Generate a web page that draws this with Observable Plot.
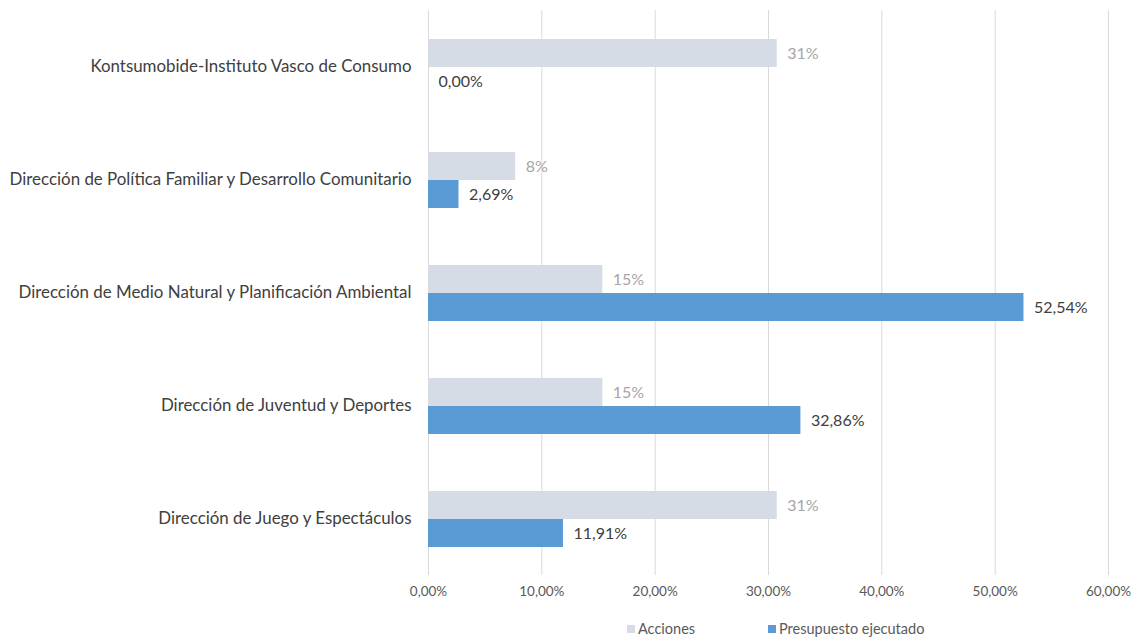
<!DOCTYPE html>
<html>
<head>
<meta charset="utf-8">
<script src="https://cdn.jsdelivr.net/npm/d3@7"></script>
<script src="https://cdn.jsdelivr.net/npm/@observablehq/plot@0.6"></script>
<style>
  html, body { margin: 0; padding: 0; background: #fff; }
  #chart { width: 1137px; }
  .legend { position: relative; width: 1137px; height: 28px; font-family: Lato, "Open Sans", sans-serif; font-size: 14.5px; color: #595959; }
  .legend .item { position: absolute; top: 8px; display: flex; align-items: center; white-space: nowrap; }
  .legend .sw { width: 8px; height: 8px; margin-right: 3px; }
</style>
</head>
<body>
<div id="chart"></div>
<script>
const categories = [
  "Kontsumobide-Instituto Vasco de Consumo",
  "Dirección de Política Familiar y Desarrollo Comunitario",
  "Dirección de Medio Natural y Planificación Ambiental",
  "Dirección de Juventud y Deportes",
  "Dirección de Juego y Espectáculos"
];
const acciones = [0.3077, 0.0769, 0.1538, 0.1538, 0.3077];
const presupuesto = [0.0000, 0.0269, 0.5254, 0.3286, 0.1191];
const series = ["Acciones", "Presupuesto ejecutado"];
const seriesColors = ["#D6DCE5", "#5B9BD5"];
const labelColors = ["#A6A6A6", "#404040"];
const xTicks = [0, 0.1, 0.2, 0.3, 0.4, 0.5, 0.6];

const locale = d3.formatLocale({decimal: ",", thousands: ".", grouping: [3], currency: ["", "€"]});
const fmt2 = locale.format(".2%");
const fmt0 = locale.format(".0%");

const data = [];
categories.forEach((c, i) => {
  data.push({category: c, series: series[0], value: acciones[i], label: fmt0(acciones[i]), lc: labelColors[0]});
  data.push({category: c, series: series[1], value: presupuesto[i], label: fmt2(presupuesto[i]), lc: labelColors[1]});
});

const chart = Plot.plot({
  width: 1137,
  height: 612,
  marginLeft: 428,
  marginRight: 29,
  marginTop: 9,
  marginBottom: 37,
  style: {fontFamily: "Lato, 'Open Sans', sans-serif", background: "#fff"},
  x: {domain: [0, 0.6], axis: null},
  fy: {domain: categories, paddingInner: 0, paddingOuter: 0, axis: null},
  y: {domain: series, paddingInner: 0, paddingOuter: 0.98, axis: null},
  color: {domain: series, range: seriesColors},
  marks: [
    Plot.gridX({ticks: xTicks, stroke: "#D9D9D9", strokeOpacity: 1, strokeWidth: 1}),
    Plot.barX(data, {x: "value", y: "series", fy: "category", fill: "series"}),
    Plot.text(data, {x: "value", y: "series", fy: "category", text: "label", fill: "lc", textAnchor: "start", dx: 10, fontSize: 16}),
    Plot.axisX({ticks: xTicks, tickFormat: fmt2, tickSize: 0, tickPadding: 11, fontSize: 13.5, fill: "#595959", label: null}),
    Plot.axisFy({anchor: "left", tickSize: 0, tickPadding: 17, fontSize: 16.9, fill: "#404040", label: null})
  ]
});
document.getElementById("chart").appendChild(chart);

// legend below the svg
const legend = document.createElement("div");
legend.className = "legend";
const legendLeft = [627, 768];
series.forEach((s, i) => {
  const item = document.createElement("div");
  item.className = "item";
  item.style.left = legendLeft[i] + "px";
  const sw = document.createElement("span");
  sw.className = "sw";
  sw.style.background = seriesColors[i];
  const t = document.createElement("span");
  t.textContent = s;
  item.appendChild(sw);
  item.appendChild(t);
  legend.appendChild(item);
});
document.body.appendChild(legend);
</script>
</body>
</html>
